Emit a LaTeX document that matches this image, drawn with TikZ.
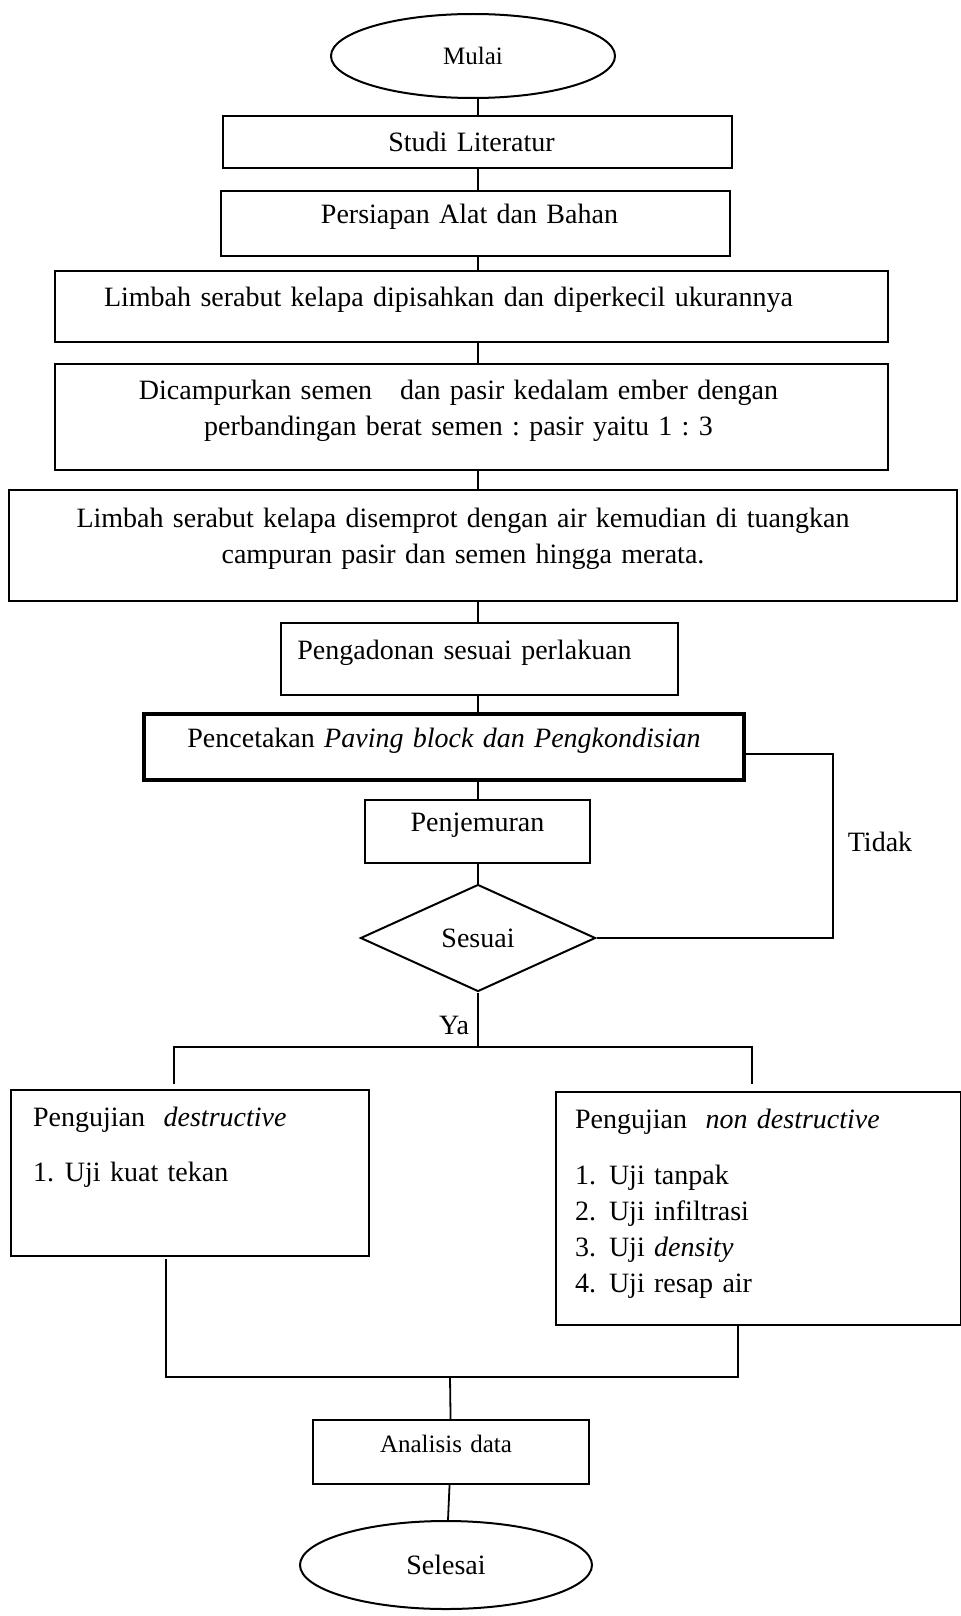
\documentclass[tikz,border=0pt]{standalone}
\usepackage{fontspec}
\setmainfont{Liberation Serif}
\usetikzlibrary{shapes.geometric}
\frenchspacing
\tikzset{
  x=0.5pt, y=-0.5pt,
  font=\fontsize{14}{18}\selectfont,
  proc/.style  ={draw, line width=1pt, inner sep=0pt, align=center},
  lift/.style  ={text width=#1, text height=10pt, text depth=10pt},
  lift2/.style ={text width=#1, text height=10pt, text depth=28pt},
  toleft/.style={execute at begin node={\leftskip=0pt plus 1fil\rightskip=#1 plus 1fil\parfillskip=0pt}},
  term/.style  ={draw, ellipse, line width=1pt, inner sep=0pt},
  dec/.style   ={draw, diamond, line width=1pt, inner sep=0pt},
  uji/.style   ={draw, line width=1pt, inner ysep=0pt, align=left, anchor=north west, text height=18pt},
  link/.style  ={line width=0.9pt},
  small/.style ={font=\fontsize{12.5}{15}\selectfont},
}
\begin{document}
\begin{tikzpicture}
  \useasboundingbox (0,0) rectangle (960,1616);
  % main column
  \node[term, small, minimum width=142pt, minimum height=42pt] (mulai) at (473,56) {Mulai};
  \node[proc, text width=240pt, toleft=6pt, minimum width=254.5pt, minimum height=26pt] (studi) at (477.5,142) {Studi Literatur};
  \node[proc, lift=240pt, toleft=6pt, minimum width=254.5pt, minimum height=32.5pt] (siap) at (475.5,223.5) {Persiapan Alat dan Bahan};
  \node[proc, lift=405pt, toleft=23pt, minimum width=416.5pt, minimum height=35.5pt] (pisah) at (471.5,306.5)
        {Limbah serabut kelapa dipisahkan dan diperkecil ukurannya};
  \node[proc, lift2=400pt, toleft=13pt, minimum width=416.5pt, minimum height=53pt] (campur) at (471.5,417)
        {Dicampurkan semen\ \ \ dan pasir kedalam ember dengan\\ perbandingan berat semen : pasir yaitu 1 : 3};
  \node[proc, lift2=460pt, toleft=20pt, minimum width=474pt, minimum height=55.5pt] (semprot) at (483,545.5)
        {Limbah serabut kelapa disemprot dengan air kemudian di tuangkan\\ campuran pasir dan semen hingga merata.};
  \node[proc, lift=190pt, toleft=15pt, minimum width=198.5pt, minimum height=36pt] (adon) at (479.5,659) {Pengadonan sesuai perlakuan};
  \node[proc, lift=290pt, line width=1.6pt, minimum width=300pt, minimum height=33pt] (cetak) at (444,747)
        {Pencetakan \textit{Paving block dan Pengkondisian}};
  \node[proc, lift=100pt, minimum width=112.5pt, minimum height=31.5pt] (jemur) at (477.5,831.5) {Penjemuran};
  \node[dec, minimum width=117.5pt, minimum height=53.5pt] (sesuai) at (478,938) {Sesuai};

  \coordinate (spine) at (478,0);
  \foreach \a/\b in {mulai/studi, studi/siap, siap/pisah, pisah/campur, campur/semprot,
                     semprot/adon, adon/cetak, cetak/jemur, jemur/sesuai}
      \draw[link] (\a.south -| spine) -- (\b.north -| spine);

  % loop back
  \coordinate (back) at (833,754);
  \draw[link] (sesuai.east) -| (back) -- (back -| cetak.east);
  \node (tidak) at (880,842) {Tidak};

  % tests
  \coordinate (split) at (478,1047);
  \coordinate (toL) at (174,1084);
  \coordinate (toR) at (752,1084);
  \draw[link] (sesuai.south) -- (split);
  \draw[link] (toL) |- (split) -| (toR);
  \node[anchor=east] (ya) at (476,1025) {Ya};

  \node[uji, text width=157pt, inner xsep=11pt, text depth=65pt] (destr) at (10,1089)
        {Pengujian\ \ \textit{destructive}\\[9.5pt]
         \makebox[16pt][l]{1.}Uji kuat tekan};
  \node[uji, text width=183.5pt, inner xsep=9.5pt, text depth=98.5pt] (ndestr) at (555,1091)
        {Pengujian\ \ \textit{non destructive}\\[10pt]
         \makebox[17pt][l]{1.}Uji tanpak\\
         \makebox[17pt][l]{2.}Uji infiltrasi\\
         \makebox[17pt][l]{3.}Uji \textit{density}\\
         \makebox[17pt][l]{4.}Uji resap air};

  % results
  \node[proc, small, lift=130pt, toleft=5pt, minimum width=138pt, minimum height=32pt] (analisis) at (451,1452) {Analisis data};
  \node[term, minimum width=146pt, minimum height=44pt] (selesai) at (446,1565) {Selesai};
  \coordinate (fromL) at (166,1259);
  \coordinate (fromR) at (738,1324);
  \coordinate (join) at (450,1377);
  \draw[link] (fromL) |- (join) -| (fromR);
  \draw[link] (join) -- (analisis);
  \draw[link] (analisis) -- (selesai);
\end{tikzpicture}
\end{document}
